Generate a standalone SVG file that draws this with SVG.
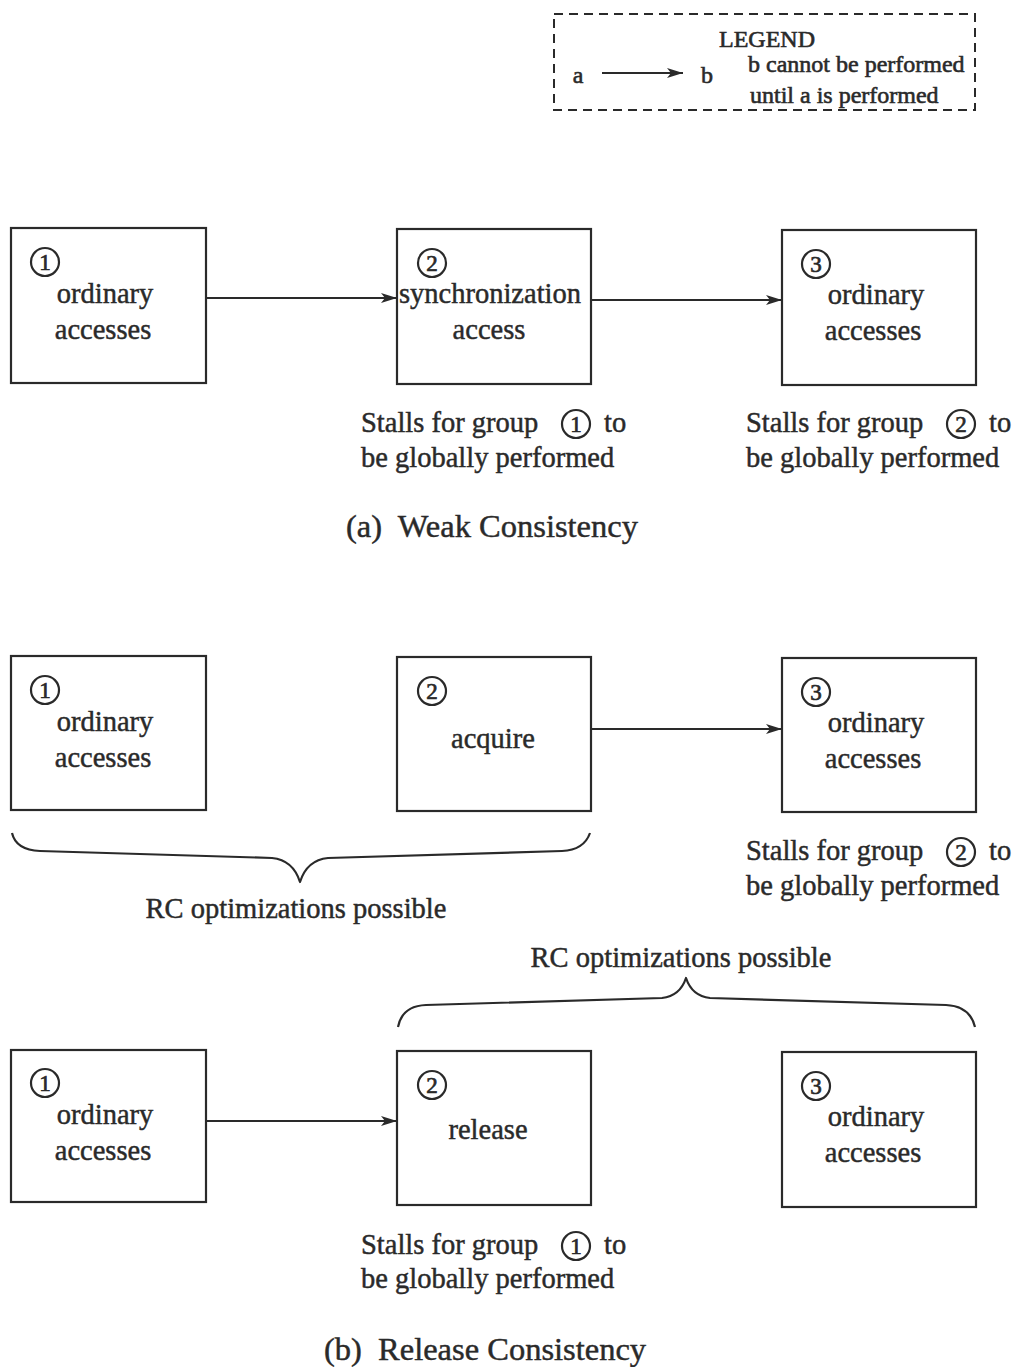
<svg xmlns="http://www.w3.org/2000/svg" width="1019" height="1367" viewBox="0 0 1019 1367">
  <style>
    text { font-family: "Liberation Serif", "Times New Roman", serif; fill: #2a2a2a; stroke: #2a2a2a; stroke-width: 0.45; }
    .box { fill: none; stroke: #2a2a2a; stroke-width: 2.2; }
    .lbl { font-size: 28.5px; text-anchor: middle; }
    .cap { font-size: 28.5px; }
    .title { font-size: 32.5px; text-anchor: middle; }
    .num { font-size: 23px; text-anchor: middle; stroke-width: 0.7; }
    .ring { fill: none; stroke: #2a2a2a; stroke-width: 2.2; }
    .edge { fill: none; stroke: #2a2a2a; stroke-width: 2; marker-end: url(#head); }
    .brace { fill: none; stroke: #2a2a2a; stroke-width: 2.2; stroke-linejoin: round; }
    .leg { font-size: 24px; stroke-width: 0.6; }
  </style>
  <defs>
    <marker id="head" viewBox="0 0 16 10" refX="16" refY="5" markerWidth="16" markerHeight="10" markerUnits="userSpaceOnUse" orient="auto">
      <path d="M0,0 L16,5 L0,10 L4,5 z" fill="#2a2a2a"/>
    </marker>
    <g id="one"><circle class="ring" r="14"/><text class="num" y="8">1</text></g>
    <g id="two"><circle class="ring" r="14"/><text class="num" y="8">2</text></g>
    <g id="three"><circle class="ring" r="14"/><text class="num" y="8">3</text></g>
  </defs>
  <rect width="1019" height="1367" fill="#ffffff"/>

  <!-- legend -->
  <g id="legend">
    <rect x="554" y="14" width="421" height="96" fill="none" stroke="#2a2a2a" stroke-width="2" stroke-dasharray="9,6"/>
    <text x="767" y="47" class="leg" text-anchor="middle">LEGEND</text>
    <text x="578" y="83" class="leg" text-anchor="middle">a</text>
    <line x1="602" y1="73" x2="683" y2="73" class="edge" stroke-width="2.4"/>
    <text x="707" y="83" class="leg" text-anchor="middle">b</text>
    <text x="748" y="72" class="leg">b cannot be performed</text>
    <text x="750" y="103" class="leg">until a is performed</text>
  </g>

  <!-- (a) weak consistency -->
  <g id="a1">
    <rect class="box" x="11" y="228" width="195" height="155"/>
    <use href="#one" x="45" y="262"/>
    <text class="lbl" x="105" y="303">ordinary</text>
    <text class="lbl" x="103" y="339">accesses</text>
  </g>
  <g id="a2">
    <rect class="box" x="397" y="229" width="194" height="155"/>
    <use href="#two" x="432" y="263"/>
    <text class="lbl" x="490" y="303">synchronization</text>
    <text class="lbl" x="489" y="339">access</text>
  </g>
  <g id="a3">
    <rect class="box" x="782" y="230" width="194" height="155"/>
    <use href="#three" x="816" y="264"/>
    <text class="lbl" x="876" y="304">ordinary</text>
    <text class="lbl" x="873" y="340">accesses</text>
  </g>
  <g id="a-notes">
    <text class="cap" x="361" y="432">Stalls for group</text>
    <use href="#one" x="576" y="424"/>
    <text class="cap" x="604" y="432">to</text>
    <text class="cap" x="361" y="467">be globally performed</text>
    <text class="cap" x="746" y="432">Stalls for group</text>
    <use href="#two" x="961" y="424"/>
    <text class="cap" x="989" y="432">to</text>
    <text class="cap" x="746" y="467">be globally performed</text>
    <text class="title" x="492" y="537" xml:space="preserve">(a)  Weak Consistency</text>
  </g>

  <!-- (b) release consistency: acquire -->
  <g id="b1">
    <rect class="box" x="11" y="656" width="195" height="154"/>
    <use href="#one" x="45" y="690"/>
    <text class="lbl" x="105" y="731">ordinary</text>
    <text class="lbl" x="103" y="767">accesses</text>
  </g>
  <g id="b2">
    <rect class="box" x="397" y="657" width="194" height="154"/>
    <use href="#two" x="432" y="691"/>
    <text class="lbl" x="493" y="748">acquire</text>
  </g>
  <g id="b3">
    <rect class="box" x="782" y="658" width="194" height="154"/>
    <use href="#three" x="816" y="692"/>
    <text class="lbl" x="876" y="732">ordinary</text>
    <text class="lbl" x="873" y="768">accesses</text>
  </g>
  <g id="b-notes">
    <path class="brace" d="M12,833 Q16,850 40,851 L272,858 Q293,860 300,882 Q307,860 328,858 L562,851 Q584,850 590,833"/>
    <text class="cap" x="296" y="918" text-anchor="middle">RC optimizations possible</text>
    <text class="cap" x="746" y="860">Stalls for group</text>
    <use href="#two" x="961" y="852"/>
    <text class="cap" x="989" y="860">to</text>
    <text class="cap" x="746" y="895">be globally performed</text>
    <text class="cap" x="681" y="967" text-anchor="middle">RC optimizations possible</text>
    <path class="brace" d="M398,1027 Q402,1006 426,1005 L662,998 Q680,996 686,978 Q692,996 710,998 L946,1005 Q970,1006 975,1027"/>
  </g>

  <!-- (b) release consistency: release -->
  <g id="c1">
    <rect class="box" x="11" y="1050" width="195" height="152"/>
    <use href="#one" x="45" y="1083"/>
    <text class="lbl" x="105" y="1124">ordinary</text>
    <text class="lbl" x="103" y="1160">accesses</text>
  </g>
  <g id="c2">
    <rect class="box" x="397" y="1051" width="194" height="154"/>
    <use href="#two" x="432" y="1085"/>
    <text class="lbl" x="488" y="1139">release</text>
  </g>
  <g id="c3">
    <rect class="box" x="782" y="1052" width="194" height="155"/>
    <use href="#three" x="816" y="1086"/>
    <text class="lbl" x="876" y="1126">ordinary</text>
    <text class="lbl" x="873" y="1162">accesses</text>
  </g>
  <g id="c-notes">
    <text class="cap" x="361" y="1254">Stalls for group</text>
    <use href="#one" x="576" y="1246"/>
    <text class="cap" x="604" y="1254">to</text>
    <text class="cap" x="361" y="1288">be globally performed</text>
    <text class="title" x="485" y="1360" xml:space="preserve">(b)  Release Consistency</text>
  </g>

  <!-- connectors -->
  <g id="connectors">
    <line class="edge" x1="206" y1="298" x2="397" y2="298"/>
    <line class="edge" x1="591" y1="300" x2="782" y2="300"/>
    <line class="edge" x1="591" y1="729" x2="782" y2="729"/>
    <line class="edge" x1="206" y1="1121" x2="397" y2="1121"/>
  </g>
</svg>
